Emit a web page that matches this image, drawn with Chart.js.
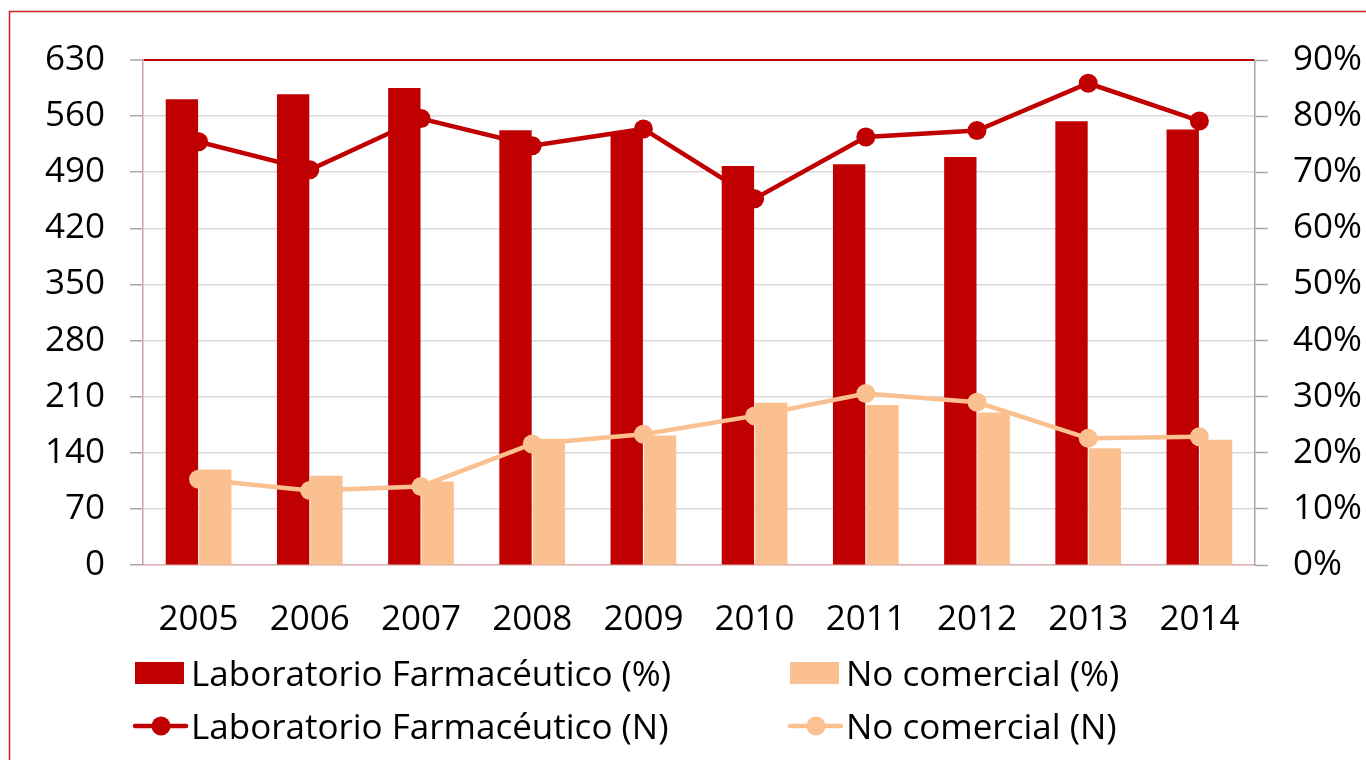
<!DOCTYPE html>
<html>
<head>
<meta charset="utf-8">
<script src="https://cdn.jsdelivr.net/npm/chart.js@4/dist/chart.umd.min.js"></script>
<style>
  html, body { margin: 0; padding: 0; background: #ffffff; }
  #wrap { width: 1366px; height: 760px; }
</style>
</head>
<body>
<div id="wrap"><canvas id="c" width="1366" height="760"></canvas></div>
<script>
// ---- data ----
const years = ['2005', '2006', '2007', '2008', '2009', '2010', '2011', '2012', '2013', '2014'];
const labPct = [83.0, 83.9, 85.0, 77.5, 77.1, 71.1, 71.4, 72.7, 79.1, 77.6];
const noComPct = [17.0, 15.9, 14.9, 22.5, 23.1, 28.9, 28.5, 27.2, 20.8, 22.3];
const labN = [528, 493, 557, 523, 544, 457, 534, 542, 601, 554];
const noComN = [107, 93, 98, 151, 163, 186, 214, 203, 158, 160];
const seriesNames = ['Laboratorio Farmacéutico (%)', 'No comercial (%)', 'Laboratorio Farmacéutico (N)', 'No comercial (N)'];
const leftTicks = { min: 0, max: 630, step: 70 };
const rightTicks = { min: 0, max: 90, step: 10 };

const RED = '#C00000';
const PEACH = '#FAC090';
const FONT = '"Open Sans"';
const FSIZE = 35;

const frameAndLegend = {
  id: 'frameAndLegend',
  beforeDraw(chart) {
    const ctx = chart.ctx;
    ctx.save();
    ctx.fillStyle = '#ffffff';
    ctx.fillRect(0, 0, chart.width, chart.height);
    ctx.strokeStyle = '#CC1F1F';
    ctx.lineWidth = 1.5;
    ctx.strokeRect(9.5, 11.5, chart.width + 20, chart.height + 20);
    ctx.restore();
  },
  afterDraw(chart) {
    const ctx = chart.ctx;
    const ds = chart.data.datasets;
    const cols = [135, 790];
    const rows = [673, 726];
    ctx.save();
    ctx.font = FSIZE + 'px ' + FONT;
    ctx.textBaseline = 'middle';
    ctx.textAlign = 'left';
    ds.forEach((d, i) => {
      const x = cols[i % 2];
      const y = rows[Math.floor(i / 2)];
      if (d.type === 'bar') {
        ctx.fillStyle = d.backgroundColor;
        ctx.fillRect(x, y - 11, 49, 22);
      } else {
        ctx.strokeStyle = d.borderColor;
        ctx.lineWidth = 4.5;
        ctx.lineCap = 'round';
        ctx.beginPath();
        ctx.moveTo(x, y);
        ctx.lineTo(x + 51, y);
        ctx.stroke();
        ctx.fillStyle = d.borderColor;
        ctx.beginPath();
        ctx.arc(x + 26, y, 9.5, 0, Math.PI * 2);
        ctx.fill();
      }
      ctx.fillStyle = '#000000';
      ctx.fillText(d.label, x + 56, y + 3);
    });
    ctx.restore();
  }
};

function build() {
  Chart.defaults.font.family = FONT;
  Chart.defaults.font.size = FSIZE;
  Chart.defaults.color = '#000000';

  new Chart(document.getElementById('c'), {
    data: {
      labels: years,
      datasets: [
        { type: 'bar', label: seriesNames[0], data: labPct, yAxisID: 'y1', backgroundColor: RED, order: 2,
          categoryPercentage: 0.6, barPercentage: 0.97 },
        { type: 'bar', label: seriesNames[1], data: noComPct, yAxisID: 'y1', backgroundColor: PEACH, order: 2,
          categoryPercentage: 0.6, barPercentage: 0.97 },
        { type: 'line', label: seriesNames[2], data: labN, yAxisID: 'y', borderColor: RED, backgroundColor: RED,
          borderWidth: 4.5, pointRadius: 9.5, pointBorderWidth: 0, pointBackgroundColor: RED, tension: 0, order: 0 },
        { type: 'line', label: seriesNames[3], data: noComN, yAxisID: 'y', borderColor: PEACH, backgroundColor: PEACH,
          borderWidth: 4.5, pointRadius: 9.5, pointBorderWidth: 0, pointBackgroundColor: PEACH, tension: 0, order: 1 }
      ]
    },
    options: {
      responsive: false,
      animation: false,
      events: [],
      layout: { padding: { left: 0, right: 0, top: 60, bottom: 105 } },
      plugins: { legend: { display: false }, tooltip: { enabled: false } },
      scales: {
        x: {
          offset: true,
          grid: { display: false, drawTicks: false },
          border: { display: true, color: '#E2B3B5', width: 1.5 },
          ticks: { padding: 34, maxRotation: 0, autoSkip: false },
          afterFit(s) { s.height = 90; }
        },
        y: {
          position: 'left',
          min: leftTicks.min, max: leftTicks.max,
          ticks: { stepSize: leftTicks.step, padding: 25 },
          grid: {
            color: (c) => (c.tick && c.tick.value === leftTicks.max) ? RED : '#D9D9D9',
            lineWidth: (c) => (c.tick && c.tick.value === leftTicks.max) ? 2 : 1.5,
            tickLength: 13, tickColor: '#A6A6A6', tickWidth: 1.5
          },
          border: { color: '#C6A2A5', width: 1.5 },
          afterFit(s) { s.width = 143; }
        },
        y1: {
          position: 'right',
          min: rightTicks.min, max: rightTicks.max,
          ticks: { stepSize: rightTicks.step, padding: 25, callback: (v) => v + '%' },
          grid: { drawOnChartArea: false, tickLength: 13, tickColor: '#A6A6A6', tickWidth: 1.5 },
          border: { color: '#A6A6A6', width: 1.5 },
          afterFit(s) { s.width = 111; }
        }
      }
    },
    plugins: [frameAndLegend]
  });
}

if (document.fonts && document.fonts.load) {
  document.fonts.load(FSIZE + 'px ' + FONT).then(build, build);
} else {
  build();
}
</script>
</body>
</html>
